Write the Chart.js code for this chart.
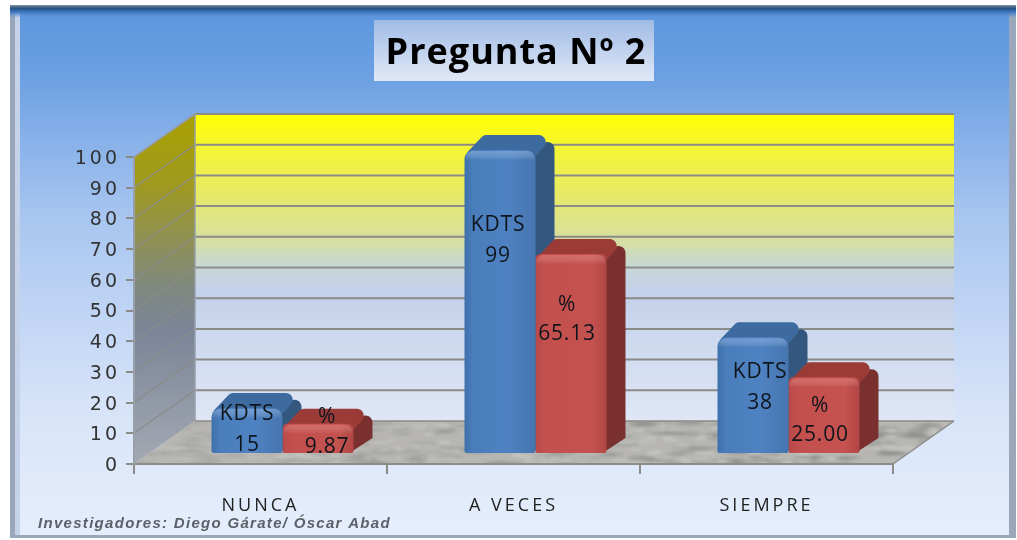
<!DOCTYPE html>
<html><head><meta charset="utf-8">
<style>html,body{margin:0;padding:0;background:#fff;overflow:hidden}#w{position:relative;width:1017px;height:540px}</style>
<script src="https://cdn.jsdelivr.net/npm/chart.js@4"></script>
</head><body><div id="w"><canvas id="c" width="1017" height="540"></canvas></div>
<script>
const categories = ["NUNCA", "A VECES", "SIEMPRE"];
const kdtsValues = [15, 99, 38];
const pctValues = [9.87, 65.13, 25.00];
const seriesNames = ["KDTS", "%"];
const yTicks = [0,10,20,30,40,50,60,70,80,90,100];
const titleText = "Pregunta Nº 2";
const creditText = "Investigadores: Diego Gárate/ Óscar Abad";

// layout (not data)
const WALL = {dx:61, dy:-43};
const BAR_SHIFT = {dx:22, dy:-10};
const BAR_DEPTH = {dx:19, dy:-15};
const LABEL_DROP = [[[6,37],[-7,23]],[[75,106],[51,80]],[[35,66],[29,58]]];
const LABEL_NUDGE_X = [[0,-2,7],[9,-4,-4]];

function rrPoly(ctx, pts, r){
  ctx.beginPath();
  const n=pts.length;
  const m=[(pts[n-1][0]+pts[0][0])/2,(pts[n-1][1]+pts[0][1])/2];
  ctx.moveTo(m[0],m[1]);
  for(let i=0;i<n;i++){const a=pts[i],b=pts[(i+1)%n];
    const rr=Array.isArray(r)?r[i]:r;
    if(i===n-1){ctx.arcTo(a[0],a[1],m[0],m[1],rr);} else ctx.arcTo(a[0],a[1],b[0],b[1],rr);}
  ctx.closePath();
}
function floorTexture(){
  const c=document.createElement('canvas');c.width=820;c.height=50;
  const t=c.getContext('2d');
  t.fillStyle='#b7b6b3';t.fillRect(0,0,820,50);
  t.filter='blur(1.4px)';
  for(let i=1;i<520;i++){
    const h1=Math.abs(Math.sin(i*12.9898)*43758.5453)%1,h2=Math.abs(Math.sin(i*78.233)*24634.6345)%1,h3=Math.abs(Math.sin(i*39.425)*11235.81)%1;
    t.fillStyle=h3>0.55?'rgba(135,135,132,0.4)':'rgba(212,212,208,0.4)';
    t.beginPath();t.ellipse(h1*820,h2*50,4+h3*11,0.8+h1*1.6,0,0,7);t.fill();
  }
  return c;
}
const tex=floorTexture();

const scene3d={
  id:'scene3d',
  beforeDraw(chart){
    const ctx=chart.ctx,W=1017,H=540;
    ctx.save();
    ctx.fillStyle='#fff';ctx.fillRect(0,0,W,H);
    // outer frame
    ctx.fillStyle='#9aa6ba';ctx.fillRect(10,5,1006,533);
    ctx.fillStyle='#c4d2ea';ctx.fillRect(15,9,5,526);
    let g=ctx.createLinearGradient(0,8,0,535);
    g.addColorStop(0,'#5c96dd');g.addColorStop(0.12,'#6a9fe2');g.addColorStop(0.4,'#a9c6f0');g.addColorStop(0.75,'#d6e3f8');g.addColorStop(1,'#e6eefc');
    ctx.fillStyle=g;ctx.fillRect(20,9,989,526);
    g=ctx.createLinearGradient(0,5,0,18);
    g.addColorStop(0,'#8a93a0');g.addColorStop(0.25,'#24507f');g.addColorStop(0.55,'#3f78c0');g.addColorStop(1,'rgba(92,150,221,0)');
    ctx.fillStyle=g;ctx.fillRect(10,5,1006,13);
    // title box
    g=ctx.createLinearGradient(0,20,0,81);
    g.addColorStop(0,'#a0bbe5');g.addColorStop(1,'#e1e9f7');
    ctx.fillStyle=g;ctx.fillRect(374,20,280,61);
    ctx.fillStyle='#000';ctx.font='bold 36px "Open Sans"';ctx.letterSpacing='1px';ctx.textAlign='center';ctx.textBaseline='middle';
    ctx.fillText(titleText,516,54);
    ctx.letterSpacing='0px';
    // walls
    const a=chart.chartArea,{dx,dy}=WALL;
    const y=chart.scales.y;
    const bl=a.left+dx,br=a.right+dx,bt=a.top+dy,bb=a.bottom+dy;
    g=ctx.createLinearGradient(0,bt,0,bb);
    g.addColorStop(0,'#ffff00');g.addColorStop(0.1,'#f6f630');g.addColorStop(0.28,'#e6e86e');g.addColorStop(0.42,'#d5dfa5');g.addColorStop(0.5,'#c8d6d8');g.addColorStop(0.58,'#c3d1ea');g.addColorStop(1,'#dfe7f6');
    ctx.fillStyle=g;ctx.fillRect(bl,bt,br-bl,bb-bt);
    g=ctx.createLinearGradient(0,bt,0,a.bottom);
    g.addColorStop(0,'#a8a000');g.addColorStop(0.2,'#a09a20');g.addColorStop(0.5,'#7f8880');g.addColorStop(0.62,'#7b8598');g.addColorStop(1,'#a4a9b2');
    ctx.fillStyle=g;ctx.beginPath();ctx.moveTo(a.left,a.top);ctx.lineTo(bl,bt);ctx.lineTo(bl,bb);ctx.lineTo(a.left,a.bottom);ctx.closePath();ctx.fill();
    // floor
    ctx.save();ctx.beginPath();ctx.moveTo(a.left,a.bottom);ctx.lineTo(a.right,a.bottom);ctx.lineTo(br,bb);ctx.lineTo(bl,bb);ctx.closePath();ctx.clip();
    ctx.drawImage(tex,a.left,bb,br-a.left,a.bottom-bb);ctx.restore();
    // gridlines on back and side wall
    ctx.strokeStyle='#8b8b88';
    yTicks.forEach(v=>{
      if(v===0)return;
      const p=y.getPixelForValue(v);
      ctx.lineWidth=2;ctx.beginPath();ctx.moveTo(bl,p+dy);ctx.lineTo(br,p+dy);ctx.stroke();
      ctx.lineWidth=1.2;ctx.beginPath();ctx.moveTo(a.left,p);ctx.lineTo(bl,p+dy);ctx.stroke();
    });
    ctx.lineWidth=1.5;ctx.strokeStyle='#98a0aa';ctx.beginPath();ctx.moveTo(a.left,a.top);ctx.lineTo(bl,bt);ctx.lineTo(bl,bb);ctx.stroke();
    ctx.strokeStyle='#8b8b88';ctx.lineWidth=1.5;ctx.beginPath();ctx.moveTo(a.right,a.bottom);ctx.lineTo(br,bb);ctx.moveTo(bl,bb);ctx.lineTo(br,bb);ctx.stroke();
    // credit
    ctx.fillStyle='#5c6068';ctx.font='italic bold 15px "Liberation Sans"';ctx.letterSpacing='1.3px';ctx.textAlign='left';ctx.textBaseline='middle';
    ctx.fillText(creditText,38,524);
    ctx.restore();
    ctx.letterSpacing='3px';
  },
  beforeDatasetsDraw(chart){
    const ctx=chart.ctx;ctx.letterSpacing='0px';ctx.save();
    ctx.translate(BAR_SHIFT.dx,BAR_SHIFT.dy);
    const cols=[{top:'#3d6b9f',side:'#33577f'},{top:'#9a3b38',side:'#7a302e'}];
    const {dx,dy}=BAR_DEPTH;
    for(let i=0;i<categories.length;i++){
      [0,1].forEach(d=>{
        const b=chart.getDatasetMeta(d).data[i];
        const l=b.x-b.width/2,r=b.x+b.width/2,t=b.y,base=b.base;
        ctx.fillStyle=cols[d].side;
        rrPoly(ctx,[[r-4,t+2],[r+dx,t+dy],[r+dx,base+dy],[r-4,base]],[2,7,1,1]);ctx.fill();
        ctx.fillStyle=cols[d].top;
        rrPoly(ctx,[[l+1,t+4],[l+dx,t+dy],[r+dx,t+dy],[r,t+6],[l+4,t+6]],[3,5,7,2,2]);ctx.fill();
      });
    }
  },
  afterDatasetsDraw(chart){
    const ctx=chart.ctx;
    // soft bevel along the top of each front face
    const tints=['rgba(150,190,240,0.45)','rgba(245,140,130,0.4)'];
    [0,1].forEach(d=>{chart.getDatasetMeta(d).data.forEach(b=>{
      const l=b.x-b.width/2,g=ctx.createLinearGradient(0,b.y,0,b.y+10);
      g.addColorStop(0,tints[d]);g.addColorStop(1,'rgba(255,255,255,0)');
      ctx.fillStyle=g;ctx.beginPath();ctx.roundRect(l+1,b.y+1,b.width-2,10,[7,7,0,0]);ctx.fill();
    });});
    ctx.restore();
    // bar labels
    ctx.save();
    ctx.fillStyle='#10151c';ctx.font='21px "Open Sans"';ctx.letterSpacing='0.8px';ctx.textAlign='center';ctx.textBaseline='middle';
    const vals=[kdtsValues.map(v=>String(v)),pctValues.map(v=>v.toFixed(2))];
    [0,1].forEach(d=>{chart.getDatasetMeta(d).data.forEach((b,i)=>{
      const x=b.x+BAR_SHIFT.dx+LABEL_NUDGE_X[d][i];
      const top=b.y+BAR_SHIFT.dy;
      ctx.fillText(seriesNames[d],x,top+LABEL_DROP[i][d][0]);
      ctx.fillText(vals[d][i],x,top+LABEL_DROP[i][d][1]);
    });});
    ctx.restore();
    ctx.letterSpacing='0px';
  }
};

function frontFill(d){
  return (c)=>{
    const ch=c.chart;
    if(!ch.chartArea)return d===0?'#4f81bd':'#c0504d';
    const cx=ch.scales.x.getPixelForValue(c.dataIndex);
    const w=71,l=cx+(d===0?-w:0),g=ch.ctx.createLinearGradient(l,0,l+w,0);
    if(d===0){g.addColorStop(0,'#3e70ab');g.addColorStop(0.12,'#4a7dbb');g.addColorStop(0.6,'#4f82c2');g.addColorStop(1,'#4676b0');}
    else{g.addColorStop(0,'#b8494a');g.addColorStop(0.15,'#c4504e');g.addColorStop(0.8,'#c4524f');g.addColorStop(1,'#b04644');}
    return g;
  };
}

new Chart(document.getElementById('c'),{
  type:'bar',
  data:{labels:categories,datasets:[
    {label:seriesNames[0],data:kdtsValues,backgroundColor:frontFill(0),borderRadius:{topLeft:9,topRight:9,bottomLeft:2,bottomRight:2},borderSkipped:false},
    {label:seriesNames[1],data:pctValues,backgroundColor:frontFill(1),borderRadius:{topLeft:5,topRight:5,bottomLeft:2,bottomRight:2},borderSkipped:false}
  ]},
  options:{
    responsive:false,animation:false,
    layout:{padding:{left:0,right:124,top:157,bottom:0}},
    datasets:{bar:{categoryPercentage:0.5612,barPercentage:1,clip:false}},
    plugins:{legend:{display:false},tooltip:{enabled:false},title:{display:false}},
    scales:{
      x:{afterFit(s){s.height=76;},
        grid:{drawOnChartArea:false,drawTicks:true,tickLength:10,color:'#8b8b88',lineWidth:2,offset:true},
        border:{display:true,color:'#8b8b88',width:2},
        ticks:{color:'#222',font:{family:'"Open Sans"',size:18},padding:21,maxRotation:0}},
      y:{min:0,max:100,afterFit(s){s.width=134;},
        afterBuildTicks(s){s.ticks=yTicks.map(v=>({value:v}));},
        grid:{drawOnChartArea:false,drawTicks:true,tickLength:8,color:'#8b8b88',lineWidth:2},
        border:{display:true,color:'#98a0aa',width:2},
        ticks:{color:'#333',font:{family:'"DejaVu Sans"',size:19},padding:6,labelOffset:2}}
    }
  },
  plugins:[scene3d]
});
</script></body></html>
